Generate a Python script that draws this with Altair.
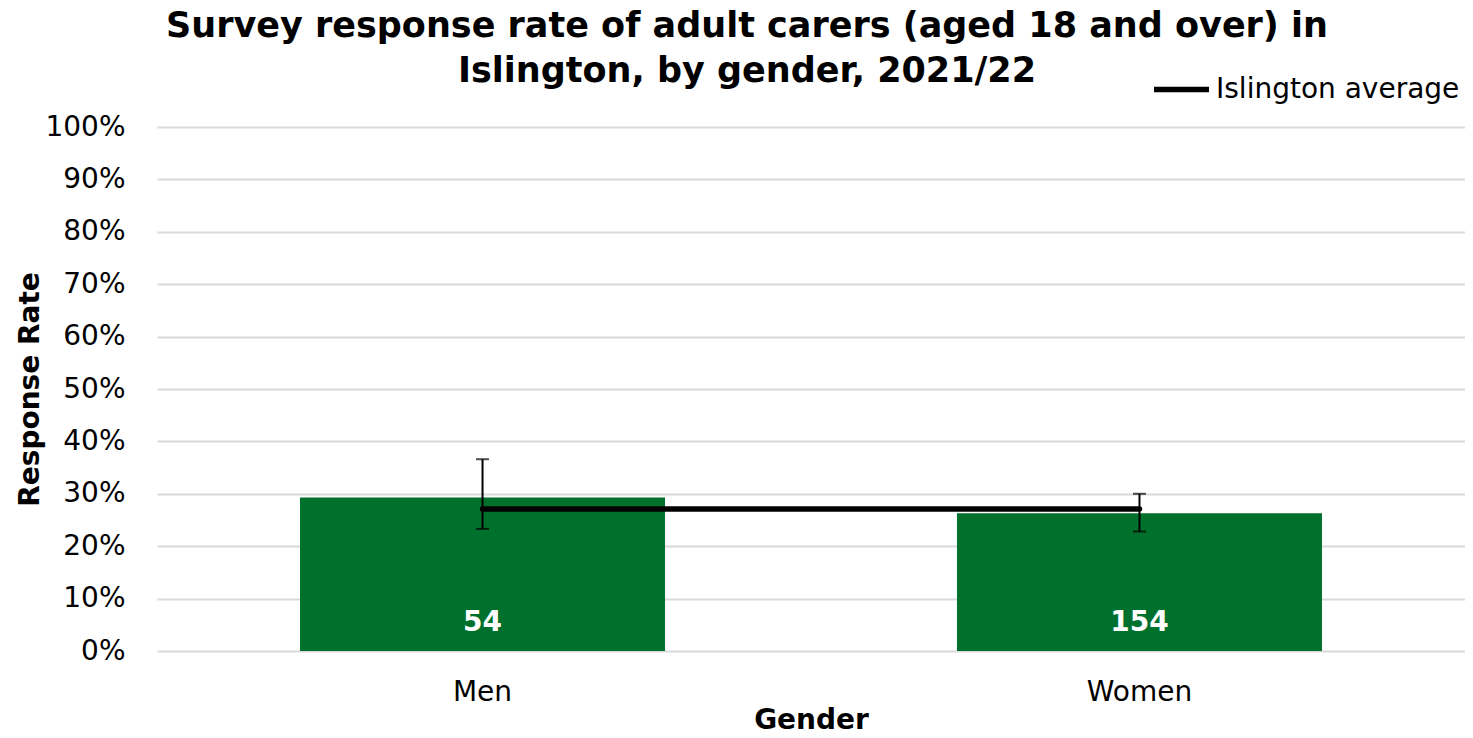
import altair as alt
import pandas as pd

genders = ["Men", "Women"]
rates = [0.293, 0.263]
err_low = [0.233, 0.228]
err_high = [0.366, 0.300]
counts = ["54", "154"]
islington_avg = 0.271

FONT = "DejaVu Sans"
FS = 28

df = pd.DataFrame({"Gender": genders, "Rate": rates, "Low": err_low,
                   "High": err_high, "Count": counts})
avg_df = pd.DataFrame({"Gender": genders, "Avg": [islington_avg] * len(genders),
                       "Series": ["Islington average"] * len(genders)})

xenc = alt.X("Gender:N", sort=genders,
             scale=alt.Scale(paddingInner=0.4444, paddingOuter=0.2177),
             axis=alt.Axis(title="Gender", labelAngle=0, ticks=False, domain=False,
                           labelFontSize=FS, labelFont=FONT, labelColor="#000",
                           labelPadding=27, titleFontSize=FS, titleFont=FONT,
                           titleFontWeight="bold", titleColor="#000", titlePadding=0))
yscale = alt.Scale(domain=[0, 1])

bars = alt.Chart(df).mark_bar(color="#00712D").encode(
    x=xenc,
    y=alt.Y("Rate:Q", scale=yscale,
            axis=alt.Axis(title="Response Rate", format=".0%", values=[i / 10 for i in range(11)],
                          ticks=False, domain=False, grid=True, gridColor="#d9d9d9",
                          gridWidth=2, labelFontSize=FS, labelFont=FONT, labelColor="#000",
                          labelPadding=32, titleFontSize=FS, titleFont=FONT,
                          titleFontWeight="bold", titleColor="#000", titlePadding=0)),
)

labels = alt.Chart(df).mark_text(color="white", fontSize=FS, fontWeight="bold", font=FONT,
                                  dy=-28, baseline="middle").encode(
    x=alt.X("Gender:N", sort=genders), y=alt.datum(0), text="Count:N")

avg_line = alt.Chart(avg_df).mark_line(strokeWidth=5.5, strokeCap="round").encode(
    x=alt.X("Gender:N", sort=genders),
    y=alt.Y("Avg:Q"),
    color=alt.Color("Series:N", scale=alt.Scale(range=["#000000"]),
                    legend=alt.Legend(title=None, orient="none", legendX=994, legendY=-68,
                                      symbolType="stroke", symbolStrokeWidth=5.5,
                                      symbolSize=3025, labelFontSize=FS, labelFont=FONT,
                                      labelColor="#000", labelLimit=400, labelOffset=4)),
)

err_rule = alt.Chart(df).mark_rule(color="black", strokeWidth=2).encode(
    x=alt.X("Gender:N", sort=genders), y="Low:Q", y2="High:Q")
cap_low = alt.Chart(df).mark_tick(color="black", thickness=2, size=13).encode(
    x=alt.X("Gender:N", sort=genders), y="Low:Q")
cap_high = alt.Chart(df).mark_tick(color="black", thickness=2, size=13).encode(
    x=alt.X("Gender:N", sort=genders), y="High:Q")

chart = alt.layer(bars, labels, avg_line, err_rule, cap_low, cap_high).properties(
    width=1308, height=524,
    autosize=alt.AutoSizeParams(type="none"),
    padding={"left": 149, "top": 119, "right": 0, "bottom": 79},
    title=alt.TitleParams(
        text=["Survey response rate of adult carers (aged 18 and over) in",
              "Islington, by gender, 2021/22"],
        fontSize=35, font=FONT, fontWeight="bold", color="#000",
        anchor="middle", dx=-64, offset=-30, lineHeight=45),
).configure_view(stroke=None)

chart.save("out.html", embed_options={"renderer": "svg", "actions": False})
